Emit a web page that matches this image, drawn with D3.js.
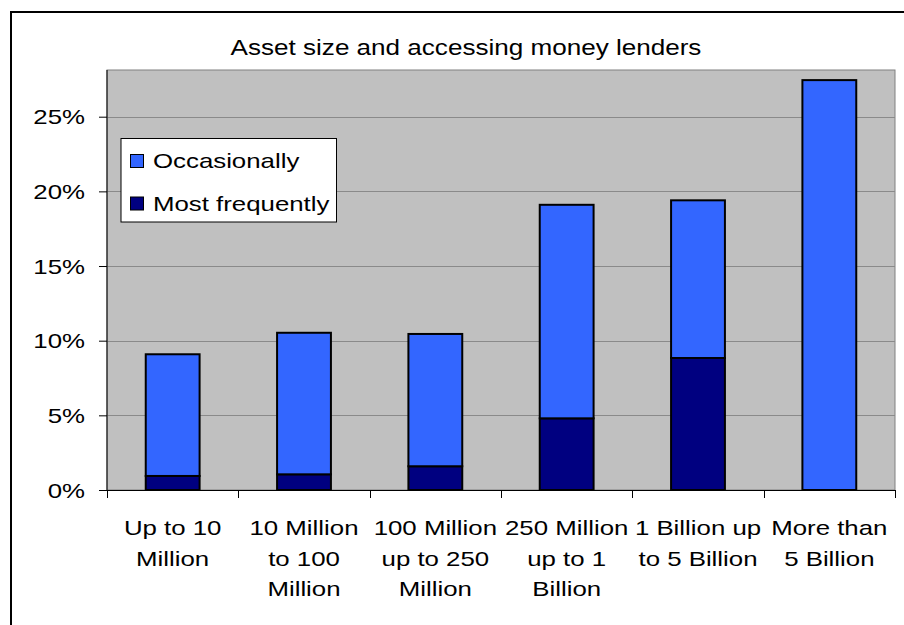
<!DOCTYPE html>
<html>
<head>
<meta charset="utf-8">
<script src="https://cdn.jsdelivr.net/npm/d3@7"></script>
<style>
  html, body { margin: 0; padding: 0; background: #ffffff; }
  svg { display: block; font-family: "Liberation Sans", Arial, sans-serif; }
</style>
</head>
<body>
<svg id="chart" width="904" height="625"></svg>
<script>
// Asset size categories (each label split over lines)
const categories = [
  ["Up to 10", "Million"],
  ["10 Million", "to 100", "Million"],
  ["100 Million", "up to 250", "Million"],
  ["250 Million", "up to 1", "Billion"],
  ["1 Billion up", "to 5 Billion"],
  ["More than", "5 Billion"]
];
const seriesNames = ["Most frequently", "Occasionally"];
// Share of respondents, stacked bottom to top
const mostFrequently = [0.0094, 0.0105, 0.0159, 0.0480, 0.0884, 0.0];
const occasionally   = [0.0815, 0.0948, 0.0886, 0.1430, 0.1056, 0.2745];
const yTicks = [0, 0.05, 0.10, 0.15, 0.20, 0.25];
const colors = { "Most frequently": "#000080", "Occasionally": "#3366FF" };

// Text is drawn slightly widened, as in the original sheet layout
const WIDEN = 1.23;
const FONT = 21;

function label(parent, x, y, str, anchor, size) {
  const g = parent.append("g")
    .attr("transform", `translate(${x},${y}) scale(${WIDEN},1)`);
  g.append("text")
    .attr("x", 0).attr("y", 0)
    .attr("text-anchor", anchor)
    .attr("font-size", size || FONT)
    .attr("fill", "#000")
    .text(str);
  return g;
}

const svg = d3.select("#chart");

// Outer chart frame
svg.append("rect")
  .attr("x", 11).attr("y", 12)
  .attr("width", 1000).attr("height", 1000)
  .attr("fill", "#ffffff")
  .attr("stroke", "#000000").attr("stroke-width", 2);

const plot = { left: 107, right: 895, top: 70, bottom: 490 };

const x = d3.scaleBand()
  .domain(d3.range(categories.length))
  .range([plot.left, plot.right])
  .paddingInner(0).paddingOuter(0);

const y = d3.scaleLinear()
  .domain([0, 0.25])
  .range([plot.bottom, 116.7]);

// Title
label(svg, 466, 55, "Asset size and accessing money lenders", "middle", 21.2);

// Plot area background
svg.append("rect")
  .attr("x", plot.left).attr("y", plot.top)
  .attr("width", plot.right - plot.left).attr("height", plot.bottom - plot.top)
  .attr("fill", "#C0C0C0")
  .attr("stroke", "#808080").attr("stroke-width", 1);

// Horizontal gridlines
svg.append("g")
  .selectAll("line")
  .data(yTicks.filter(d => d > 0))
  .join("line")
  .attr("x1", plot.left).attr("x2", plot.right)
  .attr("y1", d => Math.round(y(d)) + 0.5).attr("y2", d => Math.round(y(d)) + 0.5)
  .attr("stroke", "#8a8a8a").attr("stroke-width", 1);

// Stacked bars
const rows = categories.map((c, i) => ({
  i, "Most frequently": mostFrequently[i], "Occasionally": occasionally[i]
}));
const stack = d3.stack().keys(seriesNames);
const layers = stack(rows);

const barW = x.bandwidth() * 0.41;
svg.append("g")
  .selectAll("g")
  .data(layers)
  .join("g")
  .attr("fill", d => colors[d.key])
  .selectAll("rect")
  .data(d => d.filter(s => s[1] - s[0] > 0))
  .join("rect")
  .attr("x", d => x(d.data.i) + (x.bandwidth() - barW) / 2)
  .attr("width", barW)
  .attr("y", d => y(d[1]))
  .attr("height", d => y(d[0]) - y(d[1]))
  .attr("stroke", "#000000").attr("stroke-width", 2);

// Y axis: ticks from d3, labels widened separately
const yAxis = d3.axisLeft(y)
  .tickValues(yTicks)
  .tickFormat("")
  .tickSizeInner(8).tickSizeOuter(0);
const gy = svg.append("g")
  .attr("transform", `translate(${plot.left},0)`)
  .call(yAxis);
gy.select(".domain").remove();
gy.append("line")
  .attr("x1", 0).attr("x2", 0)
  .attr("y1", plot.top).attr("y2", plot.bottom)
  .attr("stroke", "#000");
gy.selectAll(".tick line").attr("stroke", "#000");
const fmt = d3.format(".0%");
yTicks.forEach(t => {
  label(svg, plot.left - 22, y(t) + 7.5, fmt(t), "end");
});

// X axis (ticks at band boundaries)
const gx = svg.append("g");
gx.append("line")
  .attr("x1", plot.left).attr("x2", plot.right)
  .attr("y1", plot.bottom + 0.5).attr("y2", plot.bottom + 0.5)
  .attr("stroke", "#000");
const bounds = d3.range(categories.length + 1).map(i =>
  i < categories.length ? x(i) : x(categories.length - 1) + x.bandwidth());
gx.selectAll("line.tick")
  .data(bounds)
  .join("line")
  .attr("class", "tick")
  .attr("x1", d => Math.round(d) + 0.5).attr("x2", d => Math.round(d) + 0.5)
  .attr("y1", plot.bottom).attr("y2", plot.bottom + 8)
  .attr("stroke", "#000");

// Category labels
categories.forEach((lines, i) => {
  lines.forEach((ln, k) => {
    label(gx, x(i) + x.bandwidth() / 2, 535 + k * 30.5, ln, "middle");
  });
});

// Legend
const legend = svg.append("g");
legend.append("rect")
  .attr("x", 121).attr("y", 138.5)
  .attr("width", 215.5).attr("height", 83.5)
  .attr("fill", "#ffffff").attr("stroke", "#000").attr("stroke-width", 1);
const legendItems = ["Occasionally", "Most frequently"];
legendItems.forEach((name, i) => {
  const dy = i * 42.5;
  legend.append("rect")
    .attr("x", 130.5).attr("y", 154.5 + dy)
    .attr("width", 13).attr("height", 13)
    .attr("fill", colors[name]).attr("stroke", "#000").attr("stroke-width", 1);
  label(legend, 153, 168 + dy, name, "start");
});
</script>
</body>
</html>
